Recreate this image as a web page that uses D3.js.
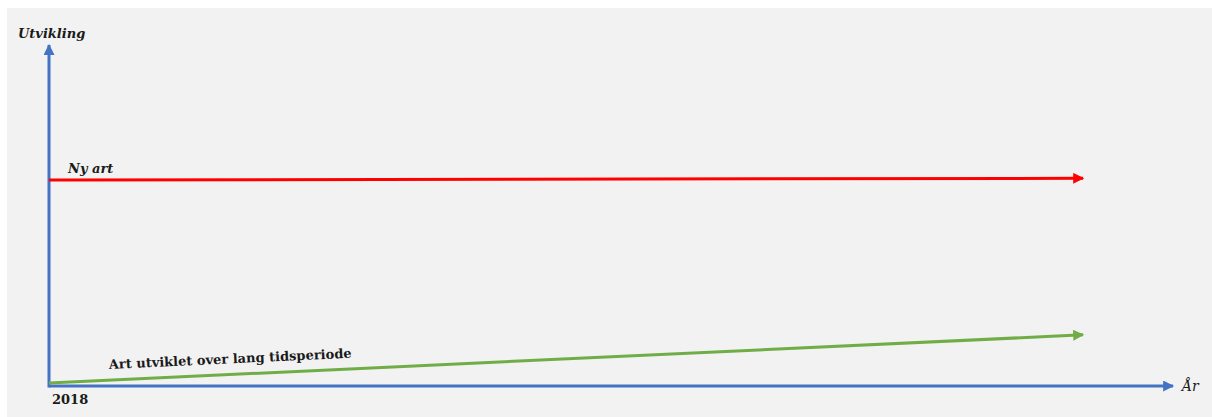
<!DOCTYPE html>
<html>
<head>
<meta charset="utf-8">
<script src="https://cdn.jsdelivr.net/npm/d3@7"></script>
<style>
  body { margin: 0; background: #ffffff; }
  text { font-family: "DejaVu Serif", "Liberation Serif", serif; fill: #1a1a1a; }
</style>
</head>
<body>
<div id="chart"></div>
<script>
// time along the x axis (0 = 2018) and development level on y
var tid = [0, 92];
var nyArt = [60.4, 60.9];
var artLang = [0.9, 15.0];
var seriesNames = ["Ny art", "Art utviklet over lang tidsperiode"];
var xTickLabels = ["2018"];
var xTitle = "År";
var yTitle = "Utvikling";

var width = 1212;
var height = 417;
var margin = {top: 45, right: 39, bottom: 31, left: 49};

var svg = d3.select("#chart")
  .append("svg")
  .attr("width", width)
  .attr("height", height);

svg.append("rect")
  .attr("x", 7).attr("y", 8)
  .attr("width", width - 7).attr("height", height - 8)
  .attr("fill", "#f2f2f2");

var x = d3.scaleLinear()
  .domain([0, 100])
  .range([margin.left, width - margin.right]);

var y = d3.scaleLinear()
  .domain([0, 100])
  .range([height - margin.bottom, margin.top]);

var defs = svg.append("defs");
function marker(id, color) {
  defs.append("marker")
    .attr("id", id)
    .attr("viewBox", "0 0 10 10")
    .attr("refX", 9).attr("refY", 5)
    .attr("markerUnits", "userSpaceOnUse")
    .attr("markerWidth", 12).attr("markerHeight", 11)
    .attr("orient", "auto")
    .append("path")
    .attr("d", "M0,0 L10,5 L0,10 Z")
    .attr("fill", color);
}
marker("arrBlue", "#4472c4");
marker("arrRed", "#ff0000");
marker("arrGreen", "#70ad47");

// axes drawn as arrows
svg.append("line")
  .attr("x1", x(0)).attr("y1", y(0))
  .attr("x2", x(100)).attr("y2", y(0))
  .attr("stroke", "#4472c4").attr("stroke-width", 3)
  .attr("marker-end", "url(#arrBlue)");

svg.append("line")
  .attr("x1", x(0)).attr("y1", y(0) + 1.5)
  .attr("x2", x(0)).attr("y2", y(100))
  .attr("stroke", "#4472c4").attr("stroke-width", 3)
  .attr("marker-end", "url(#arrBlue)");

var line = d3.line()
  .x(function(d) { return x(d[0]); })
  .y(function(d) { return y(d[1]); });

svg.append("path")
  .datum(d3.zip(tid, nyArt))
  .attr("fill", "none")
  .attr("stroke", "#ff0000")
  .attr("stroke-width", 3)
  .attr("marker-end", "url(#arrRed)")
  .attr("d", line);

svg.append("path")
  .datum(d3.zip(tid, artLang))
  .attr("fill", "none")
  .attr("stroke", "#70ad47")
  .attr("stroke-width", 3)
  .attr("marker-end", "url(#arrGreen)")
  .attr("d", line);

// labels
svg.append("text")
  .attr("x", 18).attr("y", 38)
  .attr("font-size", 13).attr("font-weight", "bold").attr("font-style", "italic")
  .text(yTitle);

svg.append("text")
  .attr("x", 1182).attr("y", 391)
  .attr("font-size", 14).attr("font-style", "italic")
  .text(xTitle);

svg.append("text")
  .attr("x", x(0) + 3).attr("y", y(0) + 18)
  .attr("font-size", 13).attr("font-weight", "bold")
  .text(xTickLabels[0]);

svg.append("text")
  .attr("x", 68).attr("y", y(nyArt[0]) - 7)
  .attr("font-size", 13).attr("font-weight", "bold").attr("font-style", "italic")
  .text(seriesNames[0]);

var angle = Math.atan2(y(artLang[1]) - y(artLang[0]), x(tid[1]) - x(tid[0])) * 180 / Math.PI;
svg.append("text")
  .attr("transform", "translate(109,369) rotate(" + angle + ")")
  .attr("font-size", 13).attr("font-weight", "bold")
  .text(seriesNames[1]);
</script>
</body>
</html>
